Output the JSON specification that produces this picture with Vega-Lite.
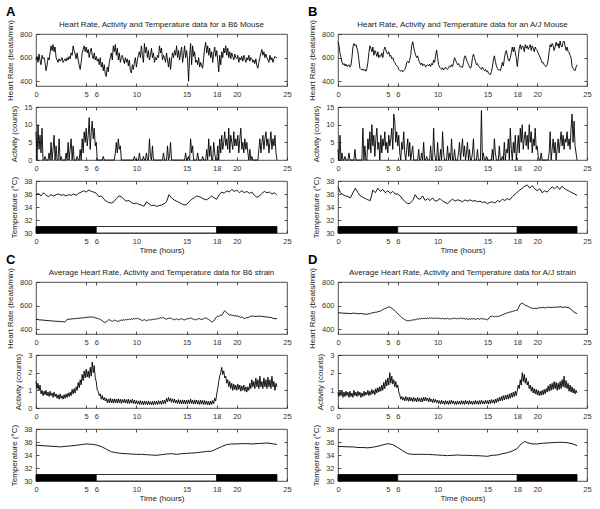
{
"$schema": "https://vega.github.io/schema/vega-lite/v6.json",
"padding": {"left": 6, "top": 6, "right": 2, "bottom": 2},
"background": "white",
"config": {
  "font": "Liberation Sans",
  "view": {"stroke": "#222", "strokeWidth": 0.8},
  "axis": {"grid": false, "domain": false, "tickSize": -3, "tickColor": "#222", "tickWidth": 0.8, "labelFontSize": 7.5, "labelColor": "#333", "labelPadding": 7, "labelFlush": false, "labelOverlap": false, "titleFontSize": 8, "titleFontWeight": "normal", "titleColor": "#222", "titlePadding": 5, "minExtent": 0},
  "axisX": {"titlePadding": 2},
  "title": {"fontWeight": "normal", "color": "#222"}
},
"datasets": {
"ld": [{"s":0,"e":6,"c":"dark"},{"s":6,"e":18,"c":"light"},{"s":18,"e":24,"c":"dark"}],
"a": [
{"t":0,"hr":580,"act":8},{"t":0.1,"hr":610,"act":0},{"t":0.2,"hr":560,"act":10},{"t":0.3,"hr":630,"act":3},{"t":0.4,"hr":575,"act":7},{"t":0.5,"hr":540,"act":2},{"t":0.6,"hr":620,"act":9},{"t":0.7,"hr":590,"act":0},{"t":0.8,"hr":600,"act":0},{"t":0.9,"hr":560,"act":1},
{"t":1,"hr":490,"act":0},{"t":1.1,"hr":530,"act":0},{"t":1.2,"hr":600,"act":0},{"t":1.3,"hr":580,"act":2},{"t":1.4,"hr":640,"act":0},{"t":1.5,"hr":700,"act":5},{"t":1.6,"hr":660,"act":0},{"t":1.7,"hr":710,"act":3},{"t":1.8,"hr":650,"act":7},{"t":1.9,"hr":690,"act":0},
{"t":2,"hr":600,"act":4},{"t":2.1,"hr":580,"act":0},{"t":2.2,"hr":560,"act":0},{"t":2.3,"hr":590,"act":6},{"t":2.4,"hr":570,"act":0},{"t":2.5,"hr":580,"act":1},{"t":2.6,"hr":600,"act":0},{"t":2.7,"hr":560,"act":0},{"t":2.8,"hr":575,"act":0},{"t":2.9,"hr":590,"act":0},
{"t":3,"hr":570,"act":2},{"t":3.1,"hr":600,"act":0},{"t":3.2,"hr":580,"act":5},{"t":3.3,"hr":610,"act":0},{"t":3.4,"hr":590,"act":3},{"t":3.5,"hr":640,"act":6},{"t":3.6,"hr":620,"act":0},{"t":3.7,"hr":700,"act":4},{"t":3.8,"hr":660,"act":0},{"t":3.9,"hr":630,"act":0},
{"t":4,"hr":590,"act":0},{"t":4.1,"hr":640,"act":1},{"t":4.2,"hr":580,"act":0},{"t":4.3,"hr":540,"act":0},{"t":4.4,"hr":500,"act":3},{"t":4.5,"hr":560,"act":0},{"t":4.6,"hr":640,"act":6},{"t":4.7,"hr":670,"act":2},{"t":4.8,"hr":700,"act":8},{"t":4.9,"hr":650,"act":5},
{"t":5,"hr":690,"act":9},{"t":5.1,"hr":640,"act":4},{"t":5.2,"hr":670,"act":7},{"t":5.3,"hr":600,"act":12},{"t":5.4,"hr":650,"act":3},{"t":5.5,"hr":680,"act":8},{"t":5.6,"hr":620,"act":11},{"t":5.7,"hr":590,"act":6},{"t":5.8,"hr":640,"act":9},{"t":5.9,"hr":580,"act":4},
{"t":6,"hr":610,"act":5},{"t":6.1,"hr":570,"act":0},{"t":6.2,"hr":590,"act":0},{"t":6.3,"hr":540,"act":0},{"t":6.4,"hr":600,"act":0},{"t":6.5,"hr":520,"act":0},{"t":6.6,"hr":560,"act":0},{"t":6.7,"hr":490,"act":1},{"t":6.8,"hr":540,"act":0},{"t":6.9,"hr":460,"act":0},
{"t":7,"hr":440,"act":0},{"t":7.1,"hr":520,"act":0},{"t":7.2,"hr":480,"act":0},{"t":7.3,"hr":560,"act":0},{"t":7.4,"hr":600,"act":0},{"t":7.5,"hr":640,"act":0},{"t":7.6,"hr":580,"act":0},{"t":7.7,"hr":700,"act":0},{"t":7.8,"hr":650,"act":0},{"t":7.9,"hr":710,"act":2},
{"t":8,"hr":620,"act":5},{"t":8.1,"hr":680,"act":2},{"t":8.2,"hr":580,"act":6},{"t":8.3,"hr":640,"act":3},{"t":8.4,"hr":560,"act":4},{"t":8.5,"hr":600,"act":0},{"t":8.6,"hr":620,"act":0},{"t":8.7,"hr":580,"act":0},{"t":8.8,"hr":550,"act":0},{"t":8.9,"hr":600,"act":0},
{"t":9,"hr":560,"act":0},{"t":9.1,"hr":590,"act":0},{"t":9.2,"hr":530,"act":0},{"t":9.3,"hr":580,"act":0},{"t":9.4,"hr":490,"act":0},{"t":9.5,"hr":470,"act":0},{"t":9.6,"hr":540,"act":0},{"t":9.7,"hr":500,"act":0},{"t":9.8,"hr":560,"act":1},{"t":9.9,"hr":600,"act":0},
{"t":10,"hr":520,"act":0},{"t":10.1,"hr":580,"act":0},{"t":10.2,"hr":620,"act":0},{"t":10.3,"hr":650,"act":2},{"t":10.4,"hr":600,"act":0},{"t":10.5,"hr":700,"act":0},{"t":10.6,"hr":620,"act":0},{"t":10.7,"hr":560,"act":1},{"t":10.8,"hr":720,"act":0},{"t":10.9,"hr":640,"act":0},
{"t":11,"hr":690,"act":2},{"t":11.1,"hr":600,"act":0},{"t":11.2,"hr":660,"act":0},{"t":11.3,"hr":580,"act":6},{"t":11.4,"hr":620,"act":1},{"t":11.5,"hr":680,"act":0},{"t":11.6,"hr":600,"act":4},{"t":11.7,"hr":640,"act":0},{"t":11.8,"hr":560,"act":0},{"t":11.9,"hr":600,"act":0},
{"t":12,"hr":580,"act":0},{"t":12.1,"hr":620,"act":0},{"t":12.2,"hr":600,"act":0},{"t":12.3,"hr":700,"act":0},{"t":12.4,"hr":640,"act":0},{"t":12.5,"hr":680,"act":0},{"t":12.6,"hr":580,"act":0},{"t":12.7,"hr":620,"act":2},{"t":12.8,"hr":600,"act":0},{"t":12.9,"hr":560,"act":0},
{"t":13,"hr":640,"act":0},{"t":13.1,"hr":580,"act":4},{"t":13.2,"hr":520,"act":0},{"t":13.3,"hr":600,"act":1},{"t":13.4,"hr":500,"act":5},{"t":13.5,"hr":580,"act":0},{"t":13.6,"hr":640,"act":0},{"t":13.7,"hr":600,"act":0},{"t":13.8,"hr":660,"act":0},{"t":13.9,"hr":620,"act":0},
{"t":14,"hr":700,"act":0},{"t":14.1,"hr":600,"act":0},{"t":14.2,"hr":660,"act":0},{"t":14.3,"hr":580,"act":0},{"t":14.4,"hr":640,"act":0},{"t":14.5,"hr":690,"act":0},{"t":14.6,"hr":560,"act":0},{"t":14.7,"hr":620,"act":0},{"t":14.8,"hr":700,"act":0},{"t":14.9,"hr":600,"act":2},
{"t":15,"hr":660,"act":0},{"t":15.1,"hr":580,"act":0},{"t":15.2,"hr":400,"act":1},{"t":15.3,"hr":620,"act":0},{"t":15.4,"hr":720,"act":6},{"t":15.5,"hr":540,"act":2},{"t":15.6,"hr":700,"act":4},{"t":15.7,"hr":610,"act":0},{"t":15.8,"hr":650,"act":0},{"t":15.9,"hr":560,"act":0},
{"t":16,"hr":580,"act":0},{"t":16.1,"hr":540,"act":2},{"t":16.2,"hr":600,"act":0},{"t":16.3,"hr":520,"act":0},{"t":16.4,"hr":560,"act":0},{"t":16.5,"hr":530,"act":0},{"t":16.6,"hr":510,"act":1},{"t":16.7,"hr":600,"act":0},{"t":16.8,"hr":680,"act":0},{"t":16.9,"hr":730,"act":0},
{"t":17,"hr":640,"act":3},{"t":17.1,"hr":700,"act":0},{"t":17.2,"hr":620,"act":6},{"t":17.3,"hr":680,"act":1},{"t":17.4,"hr":600,"act":4},{"t":17.5,"hr":650,"act":0},{"t":17.6,"hr":560,"act":0},{"t":17.7,"hr":640,"act":5},{"t":17.8,"hr":690,"act":2},{"t":17.9,"hr":610,"act":0},
{"t":18,"hr":660,"act":0},{"t":18.1,"hr":580,"act":4},{"t":18.2,"hr":480,"act":0},{"t":18.3,"hr":620,"act":6},{"t":18.4,"hr":540,"act":2},{"t":18.5,"hr":650,"act":7},{"t":18.6,"hr":600,"act":3},{"t":18.7,"hr":680,"act":5},{"t":18.8,"hr":640,"act":8},{"t":18.9,"hr":700,"act":4},
{"t":19,"hr":620,"act":6},{"t":19.1,"hr":680,"act":3},{"t":19.2,"hr":600,"act":9},{"t":19.3,"hr":650,"act":2},{"t":19.4,"hr":590,"act":7},{"t":19.5,"hr":640,"act":5},{"t":19.6,"hr":610,"act":3},{"t":19.7,"hr":580,"act":8},{"t":19.8,"hr":630,"act":4},{"t":19.9,"hr":600,"act":6},
{"t":20,"hr":590,"act":4},{"t":20.1,"hr":620,"act":7},{"t":20.2,"hr":560,"act":2},{"t":20.3,"hr":600,"act":6},{"t":20.4,"hr":580,"act":9},{"t":20.5,"hr":610,"act":3},{"t":20.6,"hr":570,"act":5},{"t":20.7,"hr":620,"act":2},{"t":20.8,"hr":590,"act":6},{"t":20.9,"hr":560,"act":3},
{"t":21,"hr":600,"act":5},{"t":21.1,"hr":580,"act":2},{"t":21.2,"hr":620,"act":0},{"t":21.3,"hr":570,"act":3},{"t":21.4,"hr":600,"act":0},{"t":21.5,"hr":590,"act":1},{"t":21.6,"hr":560,"act":0},{"t":21.7,"hr":580,"act":0},{"t":21.8,"hr":550,"act":0},{"t":21.9,"hr":590,"act":0},
{"t":22,"hr":530,"act":0},{"t":22.1,"hr":510,"act":0},{"t":22.2,"hr":560,"act":3},{"t":22.3,"hr":600,"act":6},{"t":22.4,"hr":640,"act":2},{"t":22.5,"hr":670,"act":5},{"t":22.6,"hr":620,"act":7},{"t":22.7,"hr":650,"act":3},{"t":22.8,"hr":600,"act":6},{"t":22.9,"hr":630,"act":8},
{"t":23,"hr":600,"act":4},{"t":23.1,"hr":580,"act":6},{"t":23.2,"hr":560,"act":2},{"t":23.3,"hr":620,"act":5},{"t":23.4,"hr":580,"act":8},{"t":23.5,"hr":600,"act":3},{"t":23.6,"hr":560,"act":6},{"t":23.7,"hr":590,"act":4},{"t":23.8,"hr":610,"act":7},{"t":23.9,"hr":600,"act":2},
{"t":24,"hr":600,"act":0}
],
"b": [
{"t":0,"hr":735,"act":3},{"t":0.1,"hr":700,"act":0},{"t":0.2,"hr":640,"act":7},{"t":0.3,"hr":600,"act":0},{"t":0.4,"hr":560,"act":2},{"t":0.5,"hr":540,"act":0},{"t":0.6,"hr":550,"act":0},{"t":0.7,"hr":530,"act":1},{"t":0.8,"hr":545,"act":0},{"t":0.9,"hr":525,"act":0},
{"t":1,"hr":530,"act":0},{"t":1.1,"hr":540,"act":2},{"t":1.2,"hr":520,"act":0},{"t":1.3,"hr":535,"act":0},{"t":1.4,"hr":600,"act":0},{"t":1.5,"hr":690,"act":0},{"t":1.6,"hr":720,"act":0},{"t":1.7,"hr":700,"act":3},{"t":1.8,"hr":710,"act":0},{"t":1.9,"hr":680,"act":0},
{"t":2,"hr":650,"act":0},{"t":2.1,"hr":580,"act":0},{"t":2.2,"hr":510,"act":0},{"t":2.3,"hr":500,"act":0},{"t":2.4,"hr":495,"act":0},{"t":2.5,"hr":505,"act":9},{"t":2.6,"hr":490,"act":0},{"t":2.7,"hr":500,"act":4},{"t":2.8,"hr":485,"act":0},{"t":2.9,"hr":510,"act":0},
{"t":3,"hr":560,"act":6},{"t":3.1,"hr":640,"act":3},{"t":3.2,"hr":700,"act":8},{"t":3.3,"hr":680,"act":2},{"t":3.4,"hr":650,"act":10},{"t":3.5,"hr":690,"act":4},{"t":3.6,"hr":620,"act":7},{"t":3.7,"hr":660,"act":1},{"t":3.8,"hr":640,"act":6},{"t":3.9,"hr":610,"act":9},
{"t":4,"hr":650,"act":3},{"t":4.1,"hr":600,"act":5},{"t":4.2,"hr":620,"act":0},{"t":4.3,"hr":610,"act":7},{"t":4.4,"hr":640,"act":2},{"t":4.5,"hr":600,"act":6},{"t":4.6,"hr":660,"act":4},{"t":4.7,"hr":690,"act":8},{"t":4.8,"hr":670,"act":3},{"t":4.9,"hr":640,"act":5},
{"t":5,"hr":630,"act":2},{"t":5.1,"hr":650,"act":7},{"t":5.2,"hr":610,"act":4},{"t":5.3,"hr":620,"act":6},{"t":5.4,"hr":590,"act":9},{"t":5.5,"hr":600,"act":3},{"t":5.6,"hr":570,"act":13},{"t":5.7,"hr":560,"act":11},{"t":5.8,"hr":540,"act":5},{"t":5.9,"hr":530,"act":8},
{"t":6,"hr":525,"act":4},{"t":6.1,"hr":500,"act":7},{"t":6.2,"hr":490,"act":2},{"t":6.3,"hr":485,"act":0},{"t":6.4,"hr":495,"act":5},{"t":6.5,"hr":480,"act":3},{"t":6.6,"hr":490,"act":8},{"t":6.7,"hr":500,"act":2},{"t":6.8,"hr":520,"act":0},{"t":6.9,"hr":560,"act":3},
{"t":7,"hr":570,"act":6},{"t":7.1,"hr":555,"act":1},{"t":7.2,"hr":580,"act":5},{"t":7.3,"hr":620,"act":0},{"t":7.4,"hr":700,"act":2},{"t":7.5,"hr":735,"act":4},{"t":7.6,"hr":690,"act":0},{"t":7.7,"hr":650,"act":0},{"t":7.8,"hr":620,"act":0},{"t":7.9,"hr":600,"act":0},
{"t":8,"hr":615,"act":0},{"t":8.1,"hr":580,"act":3},{"t":8.2,"hr":560,"act":0},{"t":8.3,"hr":540,"act":0},{"t":8.4,"hr":555,"act":2},{"t":8.5,"hr":530,"act":0},{"t":8.6,"hr":545,"act":5},{"t":8.7,"hr":540,"act":0},{"t":8.8,"hr":520,"act":0},{"t":8.9,"hr":535,"act":1},
{"t":9,"hr":540,"act":0},{"t":9.1,"hr":530,"act":0},{"t":9.2,"hr":545,"act":0},{"t":9.3,"hr":525,"act":4},{"t":9.4,"hr":550,"act":0},{"t":9.5,"hr":540,"act":0},{"t":9.6,"hr":580,"act":9},{"t":9.7,"hr":560,"act":2},{"t":9.8,"hr":620,"act":0},{"t":9.9,"hr":665,"act":0},
{"t":10,"hr":600,"act":5},{"t":10.1,"hr":540,"act":0},{"t":10.2,"hr":520,"act":0},{"t":10.3,"hr":510,"act":3},{"t":10.4,"hr":500,"act":0},{"t":10.5,"hr":515,"act":8},{"t":10.6,"hr":495,"act":2},{"t":10.7,"hr":505,"act":0},{"t":10.8,"hr":520,"act":0},{"t":10.9,"hr":510,"act":0},
{"t":11,"hr":500,"act":4},{"t":11.1,"hr":515,"act":0},{"t":11.2,"hr":530,"act":2},{"t":11.3,"hr":520,"act":0},{"t":11.4,"hr":540,"act":6},{"t":11.5,"hr":525,"act":0},{"t":11.6,"hr":560,"act":0},{"t":11.7,"hr":600,"act":3},{"t":11.8,"hr":580,"act":0},{"t":11.9,"hr":560,"act":0},
{"t":12,"hr":540,"act":0},{"t":12.1,"hr":550,"act":2},{"t":12.2,"hr":530,"act":5},{"t":12.3,"hr":520,"act":0},{"t":12.4,"hr":525,"act":3},{"t":12.5,"hr":515,"act":6},{"t":12.6,"hr":560,"act":1},{"t":12.7,"hr":610,"act":4},{"t":12.8,"hr":615,"act":0},{"t":12.9,"hr":580,"act":2},
{"t":13,"hr":560,"act":5},{"t":13.1,"hr":540,"act":0},{"t":13.2,"hr":520,"act":3},{"t":13.3,"hr":510,"act":0},{"t":13.4,"hr":530,"act":0},{"t":13.5,"hr":600,"act":2},{"t":13.6,"hr":630,"act":6},{"t":13.7,"hr":600,"act":0},{"t":13.8,"hr":570,"act":0},{"t":13.9,"hr":540,"act":0},
{"t":14,"hr":550,"act":3},{"t":14.1,"hr":530,"act":0},{"t":14.2,"hr":520,"act":0},{"t":14.3,"hr":510,"act":0},{"t":14.4,"hr":500,"act":14},{"t":14.5,"hr":520,"act":0},{"t":14.6,"hr":505,"act":2},{"t":14.7,"hr":490,"act":0},{"t":14.8,"hr":500,"act":0},{"t":14.9,"hr":480,"act":1},
{"t":15,"hr":490,"act":0},{"t":15.1,"hr":470,"act":0},{"t":15.2,"hr":460,"act":0},{"t":15.3,"hr":455,"act":0},{"t":15.4,"hr":480,"act":0},{"t":15.5,"hr":520,"act":3},{"t":15.6,"hr":580,"act":0},{"t":15.7,"hr":615,"act":6},{"t":15.8,"hr":570,"act":2},{"t":15.9,"hr":530,"act":0},
{"t":16,"hr":510,"act":0},{"t":16.1,"hr":495,"act":0},{"t":16.2,"hr":500,"act":4},{"t":16.3,"hr":490,"act":0},{"t":16.4,"hr":520,"act":0},{"t":16.5,"hr":560,"act":1},{"t":16.6,"hr":530,"act":0},{"t":16.7,"hr":590,"act":5},{"t":16.8,"hr":640,"act":0},{"t":16.9,"hr":660,"act":3},
{"t":17,"hr":620,"act":2},{"t":17.1,"hr":580,"act":6},{"t":17.2,"hr":570,"act":0},{"t":17.3,"hr":600,"act":9},{"t":17.4,"hr":640,"act":3},{"t":17.5,"hr":690,"act":0},{"t":17.6,"hr":650,"act":5},{"t":17.7,"hr":690,"act":2},{"t":17.8,"hr":640,"act":7},{"t":17.9,"hr":600,"act":0},
{"t":18,"hr":525,"act":3},{"t":18.1,"hr":600,"act":7},{"t":18.2,"hr":680,"act":2},{"t":18.3,"hr":710,"act":9},{"t":18.4,"hr":670,"act":5},{"t":18.5,"hr":700,"act":10},{"t":18.6,"hr":690,"act":3},{"t":18.7,"hr":650,"act":6},{"t":18.8,"hr":710,"act":8},{"t":18.9,"hr":680,"act":4},
{"t":19,"hr":700,"act":7},{"t":19.1,"hr":670,"act":3},{"t":19.2,"hr":690,"act":10},{"t":19.3,"hr":710,"act":5},{"t":19.4,"hr":660,"act":8},{"t":19.5,"hr":700,"act":2},{"t":19.6,"hr":680,"act":6},{"t":19.7,"hr":650,"act":4},{"t":19.8,"hr":690,"act":9},{"t":19.9,"hr":670,"act":3},
{"t":20,"hr":660,"act":4},{"t":20.1,"hr":640,"act":1},{"t":20.2,"hr":620,"act":0},{"t":20.3,"hr":600,"act":0},{"t":20.4,"hr":580,"act":2},{"t":20.5,"hr":555,"act":0},{"t":20.6,"hr":560,"act":0},{"t":20.7,"hr":540,"act":0},{"t":20.8,"hr":530,"act":0},{"t":20.9,"hr":525,"act":0},
{"t":21,"hr":540,"act":0},{"t":21.1,"hr":580,"act":0},{"t":21.2,"hr":650,"act":2},{"t":21.3,"hr":710,"act":8},{"t":21.4,"hr":690,"act":0},{"t":21.5,"hr":720,"act":3},{"t":21.6,"hr":700,"act":6},{"t":21.7,"hr":660,"act":2},{"t":21.8,"hr":690,"act":5},{"t":21.9,"hr":730,"act":0},
{"t":22,"hr":700,"act":3},{"t":22.1,"hr":720,"act":6},{"t":22.2,"hr":680,"act":2},{"t":22.3,"hr":740,"act":5},{"t":22.4,"hr":700,"act":8},{"t":22.5,"hr":690,"act":4},{"t":22.6,"hr":730,"act":7},{"t":22.7,"hr":740,"act":3},{"t":22.8,"hr":700,"act":6},{"t":22.9,"hr":660,"act":5},
{"t":23,"hr":690,"act":8},{"t":23.1,"hr":650,"act":4},{"t":23.2,"hr":645,"act":6},{"t":23.3,"hr":620,"act":3},{"t":23.4,"hr":600,"act":9},{"t":23.5,"hr":530,"act":13},{"t":23.6,"hr":510,"act":5},{"t":23.7,"hr":495,"act":11},{"t":23.8,"hr":490,"act":4},{"t":23.9,"hr":520,"act":2},
{"t":24,"hr":540,"act":0}
],
"c": [
{"t":0,"hr":485,"act":1.5},{"t":0.1,"hr":482,"act":1.1},{"t":0.2,"hr":484,"act":1.4},{"t":0.3,"hr":480,"act":1.0},{"t":0.4,"hr":478,"act":1.3},{"t":0.5,"hr":481,"act":0.8},{"t":0.6,"hr":476,"act":1.0},{"t":0.7,"hr":479,"act":0.7},{"t":0.8,"hr":475,"act":0.95},{"t":0.9,"hr":477,"act":0.75},
{"t":1,"hr":474,"act":1.0},{"t":1.1,"hr":476,"act":0.7},{"t":1.2,"hr":472,"act":0.9},{"t":1.3,"hr":475,"act":0.65},{"t":1.4,"hr":470,"act":0.95},{"t":1.5,"hr":473,"act":0.7},{"t":1.6,"hr":468,"act":0.85},{"t":1.7,"hr":471,"act":0.6},{"t":1.8,"hr":467,"act":0.9},{"t":1.9,"hr":470,"act":0.65},
{"t":2,"hr":466,"act":0.8},{"t":2.1,"hr":469,"act":0.55},{"t":2.2,"hr":465,"act":0.75},{"t":2.3,"hr":468,"act":0.5},{"t":2.4,"hr":464,"act":0.8},{"t":2.5,"hr":467,"act":0.55},{"t":2.6,"hr":462,"act":0.7},{"t":2.7,"hr":465,"act":0.5},{"t":2.8,"hr":460,"act":0.75},{"t":2.9,"hr":463,"act":0.55},
{"t":3,"hr":475,"act":0.8},{"t":3.1,"hr":482,"act":0.6},{"t":3.2,"hr":486,"act":0.85},{"t":3.3,"hr":484,"act":0.65},{"t":3.4,"hr":488,"act":0.9},{"t":3.5,"hr":485,"act":0.7},{"t":3.6,"hr":490,"act":1.05},{"t":3.7,"hr":487,"act":0.8},{"t":3.8,"hr":491,"act":1.1},{"t":3.9,"hr":489,"act":0.85},
{"t":4,"hr":493,"act":1.2},{"t":4.1,"hr":490,"act":1.0},{"t":4.2,"hr":495,"act":1.45},{"t":4.3,"hr":492,"act":1.15},{"t":4.4,"hr":496,"act":1.6},{"t":4.5,"hr":494,"act":1.3},{"t":4.6,"hr":498,"act":1.9},{"t":4.7,"hr":495,"act":1.55},{"t":4.8,"hr":500,"act":2.1},{"t":4.9,"hr":497,"act":1.7},
{"t":5,"hr":502,"act":2.2},{"t":5.1,"hr":499,"act":1.75},{"t":5.2,"hr":504,"act":2.1},{"t":5.3,"hr":501,"act":1.7},{"t":5.4,"hr":506,"act":2.3},{"t":5.5,"hr":503,"act":1.8},{"t":5.6,"hr":505,"act":2.6},{"t":5.7,"hr":500,"act":2.0},{"t":5.8,"hr":502,"act":2.4},{"t":5.9,"hr":497,"act":1.7},
{"t":6,"hr":495,"act":1.5},{"t":6.1,"hr":490,"act":1.0},{"t":6.2,"hr":492,"act":0.95},{"t":6.3,"hr":487,"act":0.7},{"t":6.4,"hr":483,"act":0.8},{"t":6.5,"hr":478,"act":0.5},{"t":6.6,"hr":472,"act":0.7},{"t":6.7,"hr":466,"act":0.45},{"t":6.8,"hr":460,"act":0.6},{"t":6.9,"hr":458,"act":0.4},
{"t":7,"hr":462,"act":0.55},{"t":7.1,"hr":470,"act":0.3},{"t":7.2,"hr":478,"act":0.5},{"t":7.3,"hr":482,"act":0.3},{"t":7.4,"hr":475,"act":0.55},{"t":7.5,"hr":470,"act":0.3},{"t":7.6,"hr":466,"act":0.5},{"t":7.7,"hr":472,"act":0.28},{"t":7.8,"hr":478,"act":0.52},{"t":7.9,"hr":474,"act":0.3},
{"t":8,"hr":470,"act":0.5},{"t":8.1,"hr":466,"act":0.28},{"t":8.2,"hr":472,"act":0.52},{"t":8.3,"hr":468,"act":0.3},{"t":8.4,"hr":474,"act":0.5},{"t":8.5,"hr":478,"act":0.26},{"t":8.6,"hr":476,"act":0.48},{"t":8.7,"hr":480,"act":0.3},{"t":8.8,"hr":477,"act":0.5},{"t":8.9,"hr":482,"act":0.28},
{"t":9,"hr":479,"act":0.48},{"t":9.1,"hr":484,"act":0.26},{"t":9.2,"hr":481,"act":0.5},{"t":9.3,"hr":486,"act":0.25},{"t":9.4,"hr":483,"act":0.46},{"t":9.5,"hr":488,"act":0.28},{"t":9.6,"hr":485,"act":0.5},{"t":9.7,"hr":490,"act":0.25},{"t":9.8,"hr":487,"act":0.45},{"t":9.9,"hr":492,"act":0.24},
{"t":10,"hr":490,"act":0.42},{"t":10.1,"hr":494,"act":0.22},{"t":10.2,"hr":489,"act":0.4},{"t":10.3,"hr":486,"act":0.2},{"t":10.4,"hr":482,"act":0.42},{"t":10.5,"hr":478,"act":0.2},{"t":10.6,"hr":474,"act":0.38},{"t":10.7,"hr":478,"act":0.18},{"t":10.8,"hr":482,"act":0.4},{"t":10.9,"hr":476,"act":0.2},
{"t":11,"hr":472,"act":0.38},{"t":11.1,"hr":476,"act":0.18},{"t":11.2,"hr":480,"act":0.4},{"t":11.3,"hr":477,"act":0.2},{"t":11.4,"hr":482,"act":0.36},{"t":11.5,"hr":479,"act":0.18},{"t":11.6,"hr":484,"act":0.38},{"t":11.7,"hr":481,"act":0.17},{"t":11.8,"hr":486,"act":0.4},{"t":11.9,"hr":483,"act":0.2},
{"t":12,"hr":488,"act":0.38},{"t":12.1,"hr":492,"act":0.2},{"t":12.2,"hr":489,"act":0.42},{"t":12.3,"hr":494,"act":0.22},{"t":12.4,"hr":498,"act":0.4},{"t":12.5,"hr":495,"act":0.2},{"t":12.6,"hr":500,"act":0.44},{"t":12.7,"hr":496,"act":0.24},{"t":12.8,"hr":492,"act":0.45},{"t":12.9,"hr":488,"act":0.25},
{"t":13,"hr":485,"act":0.55},{"t":13.1,"hr":490,"act":0.35},{"t":13.2,"hr":494,"act":0.6},{"t":13.3,"hr":491,"act":0.38},{"t":13.4,"hr":496,"act":0.55},{"t":13.5,"hr":492,"act":0.32},{"t":13.6,"hr":487,"act":0.52},{"t":13.7,"hr":483,"act":0.3},{"t":13.8,"hr":480,"act":0.5},{"t":13.9,"hr":484,"act":0.28},
{"t":14,"hr":488,"act":0.45},{"t":14.1,"hr":484,"act":0.25},{"t":14.2,"hr":480,"act":0.48},{"t":14.3,"hr":483,"act":0.25},{"t":14.4,"hr":487,"act":0.44},{"t":14.5,"hr":490,"act":0.22},{"t":14.6,"hr":486,"act":0.46},{"t":14.7,"hr":482,"act":0.24},{"t":14.8,"hr":479,"act":0.45},{"t":14.9,"hr":483,"act":0.22},
{"t":15,"hr":487,"act":0.44},{"t":15.1,"hr":491,"act":0.24},{"t":15.2,"hr":488,"act":0.46},{"t":15.3,"hr":493,"act":0.25},{"t":15.4,"hr":496,"act":0.5},{"t":15.5,"hr":492,"act":0.26},{"t":15.6,"hr":488,"act":0.44},{"t":15.7,"hr":485,"act":0.22},{"t":15.8,"hr":482,"act":0.46},{"t":15.9,"hr":479,"act":0.24},
{"t":16,"hr":483,"act":0.45},{"t":16.1,"hr":487,"act":0.22},{"t":16.2,"hr":491,"act":0.42},{"t":16.3,"hr":488,"act":0.2},{"t":16.4,"hr":485,"act":0.44},{"t":16.5,"hr":482,"act":0.22},{"t":16.6,"hr":486,"act":0.43},{"t":16.7,"hr":490,"act":0.2},{"t":16.8,"hr":494,"act":0.42},{"t":16.9,"hr":497,"act":0.2},
{"t":17,"hr":492,"act":0.4},{"t":17.1,"hr":487,"act":0.18},{"t":17.2,"hr":482,"act":0.38},{"t":17.3,"hr":476,"act":0.17},{"t":17.4,"hr":470,"act":0.4},{"t":17.5,"hr":464,"act":0.2},{"t":17.6,"hr":462,"act":0.42},{"t":17.7,"hr":470,"act":0.25},{"t":17.8,"hr":482,"act":0.55},{"t":17.9,"hr":495,"act":0.4},
{"t":18,"hr":506,"act":0.8},{"t":18.1,"hr":512,"act":1.1},{"t":18.2,"hr":508,"act":1.5},{"t":18.3,"hr":515,"act":1.8},{"t":18.4,"hr":520,"act":2.0},{"t":18.5,"hr":518,"act":2.3},{"t":18.6,"hr":532,"act":1.9},{"t":18.7,"hr":548,"act":2.1},{"t":18.8,"hr":555,"act":1.7},{"t":18.9,"hr":548,"act":1.8},
{"t":19,"hr":540,"act":1.4},{"t":19.1,"hr":532,"act":1.6},{"t":19.2,"hr":525,"act":1.2},{"t":19.3,"hr":520,"act":1.5},{"t":19.4,"hr":523,"act":1.1},{"t":19.5,"hr":518,"act":1.4},{"t":19.6,"hr":515,"act":1.0},{"t":19.7,"hr":519,"act":1.35},{"t":19.8,"hr":512,"act":1.05},{"t":19.9,"hr":516,"act":1.3},
{"t":20,"hr":510,"act":1.0},{"t":20.1,"hr":514,"act":1.35},{"t":20.2,"hr":508,"act":1.05},{"t":20.3,"hr":504,"act":1.3},{"t":20.4,"hr":500,"act":0.95},{"t":20.5,"hr":505,"act":1.25},{"t":20.6,"hr":498,"act":1.0},{"t":20.7,"hr":494,"act":1.3},{"t":20.8,"hr":490,"act":0.95},{"t":20.9,"hr":496,"act":1.2},
{"t":21,"hr":500,"act":0.9},{"t":21.1,"hr":497,"act":1.2},{"t":21.2,"hr":503,"act":1.0},{"t":21.3,"hr":507,"act":1.4},{"t":21.4,"hr":512,"act":1.1},{"t":21.5,"hr":509,"act":1.6},{"t":21.6,"hr":514,"act":1.2},{"t":21.7,"hr":510,"act":1.5},{"t":21.8,"hr":507,"act":1.1},{"t":21.9,"hr":511,"act":1.7},
{"t":22,"hr":508,"act":1.2},{"t":22.1,"hr":512,"act":1.6},{"t":22.2,"hr":509,"act":1.1},{"t":22.3,"hr":513,"act":1.8},{"t":22.4,"hr":510,"act":1.2},{"t":22.5,"hr":506,"act":1.5},{"t":22.6,"hr":510,"act":1.1},{"t":22.7,"hr":507,"act":1.7},{"t":22.8,"hr":503,"act":1.2},{"t":22.9,"hr":507,"act":1.6},
{"t":23,"hr":504,"act":1.1},{"t":23.1,"hr":500,"act":1.75},{"t":23.2,"hr":503,"act":1.2},{"t":23.3,"hr":499,"act":1.6},{"t":23.4,"hr":502,"act":1.1},{"t":23.5,"hr":497,"act":1.8},{"t":23.6,"hr":493,"act":1.2},{"t":23.7,"hr":489,"act":1.5},{"t":23.8,"hr":492,"act":1.0},{"t":23.9,"hr":488,"act":1.4},
{"t":24,"hr":490,"act":1.2}
],
"d": [
{"t":0,"hr":540,"act":0.9},{"t":0.1,"hr":537,"act":0.65},{"t":0.2,"hr":541,"act":0.95},{"t":0.3,"hr":536,"act":0.7},{"t":0.4,"hr":539,"act":1.0},{"t":0.5,"hr":535,"act":0.6},{"t":0.6,"hr":538,"act":0.9},{"t":0.7,"hr":534,"act":0.65},{"t":0.8,"hr":537,"act":0.95},{"t":0.9,"hr":533,"act":0.7},
{"t":1,"hr":536,"act":0.9},{"t":1.1,"hr":532,"act":0.6},{"t":1.2,"hr":535,"act":0.95},{"t":1.3,"hr":531,"act":0.65},{"t":1.4,"hr":534,"act":0.85},{"t":1.5,"hr":538,"act":0.6},{"t":1.6,"hr":535,"act":1.0},{"t":1.7,"hr":532,"act":0.7},{"t":1.8,"hr":536,"act":0.9},{"t":1.9,"hr":533,"act":0.65},
{"t":2,"hr":530,"act":0.95},{"t":2.1,"hr":534,"act":0.7},{"t":2.2,"hr":531,"act":0.9},{"t":2.3,"hr":535,"act":0.6},{"t":2.4,"hr":532,"act":0.85},{"t":2.5,"hr":528,"act":0.65},{"t":2.6,"hr":531,"act":0.95},{"t":2.7,"hr":527,"act":0.7},{"t":2.8,"hr":530,"act":0.9},{"t":2.9,"hr":526,"act":0.75},
{"t":3,"hr":529,"act":1.0},{"t":3.1,"hr":533,"act":0.7},{"t":3.2,"hr":530,"act":0.95},{"t":3.3,"hr":535,"act":0.75},{"t":3.4,"hr":540,"act":1.05},{"t":3.5,"hr":538,"act":0.8},{"t":3.6,"hr":543,"act":1.0},{"t":3.7,"hr":541,"act":0.75},{"t":3.8,"hr":546,"act":1.1},{"t":3.9,"hr":544,"act":0.85},
{"t":4,"hr":549,"act":1.15},{"t":4.1,"hr":552,"act":0.9},{"t":4.2,"hr":550,"act":1.2},{"t":4.3,"hr":556,"act":0.95},{"t":4.4,"hr":560,"act":1.3},{"t":4.5,"hr":566,"act":1.0},{"t":4.6,"hr":571,"act":1.45},{"t":4.7,"hr":575,"act":1.1},{"t":4.8,"hr":578,"act":1.6},{"t":4.9,"hr":582,"act":1.25},
{"t":5,"hr":586,"act":1.7},{"t":5.1,"hr":590,"act":1.3},{"t":5.2,"hr":587,"act":2.0},{"t":5.3,"hr":584,"act":1.4},{"t":5.4,"hr":578,"act":1.8},{"t":5.5,"hr":572,"act":1.35},{"t":5.6,"hr":565,"act":1.6},{"t":5.7,"hr":558,"act":1.2},{"t":5.8,"hr":550,"act":1.5},{"t":5.9,"hr":540,"act":1.15},
{"t":6,"hr":532,"act":1.3},{"t":6.1,"hr":524,"act":0.9},{"t":6.2,"hr":516,"act":0.75},{"t":6.3,"hr":508,"act":0.5},{"t":6.4,"hr":500,"act":0.65},{"t":6.5,"hr":494,"act":0.45},{"t":6.6,"hr":488,"act":0.6},{"t":6.7,"hr":482,"act":0.4},{"t":6.8,"hr":477,"act":0.65},{"t":6.9,"hr":473,"act":0.42},
{"t":7,"hr":471,"act":0.6},{"t":7.1,"hr":472,"act":0.38},{"t":7.2,"hr":475,"act":0.62},{"t":7.3,"hr":473,"act":0.4},{"t":7.4,"hr":477,"act":0.58},{"t":7.5,"hr":479,"act":0.36},{"t":7.6,"hr":481,"act":0.6},{"t":7.7,"hr":478,"act":0.38},{"t":7.8,"hr":483,"act":0.56},{"t":7.9,"hr":485,"act":0.35},
{"t":8,"hr":488,"act":0.6},{"t":8.1,"hr":486,"act":0.38},{"t":8.2,"hr":490,"act":0.55},{"t":8.3,"hr":487,"act":0.34},{"t":8.4,"hr":492,"act":0.58},{"t":8.5,"hr":489,"act":0.36},{"t":8.6,"hr":493,"act":0.6},{"t":8.7,"hr":490,"act":0.4},{"t":8.8,"hr":494,"act":0.62},{"t":8.9,"hr":491,"act":0.4},
{"t":9,"hr":495,"act":0.55},{"t":9.1,"hr":492,"act":0.34},{"t":9.2,"hr":496,"act":0.58},{"t":9.3,"hr":493,"act":0.36},{"t":9.4,"hr":497,"act":0.5},{"t":9.5,"hr":494,"act":0.3},{"t":9.6,"hr":491,"act":0.52},{"t":9.7,"hr":495,"act":0.32},{"t":9.8,"hr":492,"act":0.48},{"t":9.9,"hr":496,"act":0.3},
{"t":10,"hr":493,"act":0.45},{"t":10.1,"hr":490,"act":0.25},{"t":10.2,"hr":494,"act":0.42},{"t":10.3,"hr":491,"act":0.22},{"t":10.4,"hr":489,"act":0.44},{"t":10.5,"hr":493,"act":0.24},{"t":10.6,"hr":490,"act":0.4},{"t":10.7,"hr":487,"act":0.2},{"t":10.8,"hr":491,"act":0.42},{"t":10.9,"hr":488,"act":0.22},
{"t":11,"hr":492,"act":0.4},{"t":11.1,"hr":489,"act":0.2},{"t":11.2,"hr":486,"act":0.42},{"t":11.3,"hr":490,"act":0.22},{"t":11.4,"hr":487,"act":0.45},{"t":11.5,"hr":491,"act":0.25},{"t":11.6,"hr":494,"act":0.4},{"t":11.7,"hr":490,"act":0.2},{"t":11.8,"hr":493,"act":0.38},{"t":11.9,"hr":489,"act":0.2},
{"t":12,"hr":492,"act":0.4},{"t":12.1,"hr":488,"act":0.22},{"t":12.2,"hr":491,"act":0.38},{"t":12.3,"hr":495,"act":0.2},{"t":12.4,"hr":492,"act":0.42},{"t":12.5,"hr":489,"act":0.22},{"t":12.6,"hr":493,"act":0.4},{"t":12.7,"hr":490,"act":0.2},{"t":12.8,"hr":486,"act":0.44},{"t":12.9,"hr":490,"act":0.24},
{"t":13,"hr":487,"act":0.4},{"t":13.1,"hr":484,"act":0.2},{"t":13.2,"hr":488,"act":0.42},{"t":13.3,"hr":485,"act":0.22},{"t":13.4,"hr":490,"act":0.38},{"t":13.5,"hr":487,"act":0.2},{"t":13.6,"hr":491,"act":0.4},{"t":13.7,"hr":488,"act":0.21},{"t":13.8,"hr":484,"act":0.43},{"t":13.9,"hr":487,"act":0.22},
{"t":14,"hr":491,"act":0.4},{"t":14.1,"hr":488,"act":0.2},{"t":14.2,"hr":485,"act":0.42},{"t":14.3,"hr":489,"act":0.22},{"t":14.4,"hr":492,"act":0.45},{"t":14.5,"hr":488,"act":0.24},{"t":14.6,"hr":485,"act":0.4},{"t":14.7,"hr":489,"act":0.22},{"t":14.8,"hr":486,"act":0.44},{"t":14.9,"hr":483,"act":0.25},
{"t":15,"hr":480,"act":0.42},{"t":15.1,"hr":486,"act":0.22},{"t":15.2,"hr":498,"act":0.45},{"t":15.3,"hr":510,"act":0.25},{"t":15.4,"hr":506,"act":0.48},{"t":15.5,"hr":512,"act":0.28},{"t":15.6,"hr":508,"act":0.46},{"t":15.7,"hr":505,"act":0.26},{"t":15.8,"hr":510,"act":0.5},{"t":15.9,"hr":507,"act":0.3},
{"t":16,"hr":511,"act":0.55},{"t":16.1,"hr":508,"act":0.35},{"t":16.2,"hr":512,"act":0.6},{"t":16.3,"hr":515,"act":0.4},{"t":16.4,"hr":518,"act":0.65},{"t":16.5,"hr":522,"act":0.42},{"t":16.6,"hr":526,"act":0.7},{"t":16.7,"hr":530,"act":0.45},{"t":16.8,"hr":533,"act":0.72},{"t":16.9,"hr":536,"act":0.5},
{"t":17,"hr":538,"act":0.75},{"t":17.1,"hr":541,"act":0.5},{"t":17.2,"hr":544,"act":0.8},{"t":17.3,"hr":546,"act":0.55},{"t":17.4,"hr":548,"act":0.85},{"t":17.5,"hr":551,"act":0.6},{"t":17.6,"hr":553,"act":0.9},{"t":17.7,"hr":556,"act":0.65},{"t":17.8,"hr":558,"act":0.95},{"t":17.9,"hr":560,"act":0.7},
{"t":18,"hr":562,"act":1.0},{"t":18.1,"hr":575,"act":1.3},{"t":18.2,"hr":598,"act":1.1},{"t":18.3,"hr":612,"act":1.6},{"t":18.4,"hr":618,"act":1.3},{"t":18.5,"hr":620,"act":2.0},{"t":18.6,"hr":616,"act":1.5},{"t":18.7,"hr":610,"act":1.9},{"t":18.8,"hr":604,"act":1.4},{"t":18.9,"hr":600,"act":1.7},
{"t":19,"hr":598,"act":1.3},{"t":19.1,"hr":592,"act":1.5},{"t":19.2,"hr":588,"act":1.1},{"t":19.3,"hr":584,"act":1.3},{"t":19.4,"hr":580,"act":0.95},{"t":19.5,"hr":577,"act":1.2},{"t":19.6,"hr":579,"act":0.85},{"t":19.7,"hr":576,"act":1.1},{"t":19.8,"hr":578,"act":0.8},{"t":19.9,"hr":574,"act":1.05},
{"t":20,"hr":577,"act":0.75},{"t":20.1,"hr":580,"act":1.0},{"t":20.2,"hr":583,"act":0.7},{"t":20.3,"hr":580,"act":0.95},{"t":20.4,"hr":585,"act":0.72},{"t":20.5,"hr":582,"act":1.0},{"t":20.6,"hr":586,"act":0.75},{"t":20.7,"hr":583,"act":1.05},{"t":20.8,"hr":580,"act":0.8},{"t":20.9,"hr":584,"act":1.1},
{"t":21,"hr":587,"act":0.9},{"t":21.1,"hr":584,"act":1.25},{"t":21.2,"hr":588,"act":0.95},{"t":21.3,"hr":585,"act":1.35},{"t":21.4,"hr":583,"act":1.0},{"t":21.5,"hr":587,"act":1.4},{"t":21.6,"hr":584,"act":1.05},{"t":21.7,"hr":588,"act":1.5},{"t":21.8,"hr":585,"act":1.1},{"t":21.9,"hr":589,"act":1.45},
{"t":22,"hr":586,"act":1.0},{"t":22.1,"hr":590,"act":1.4},{"t":22.2,"hr":587,"act":1.05},{"t":22.3,"hr":591,"act":1.5},{"t":22.4,"hr":588,"act":1.1},{"t":22.5,"hr":585,"act":1.6},{"t":22.6,"hr":589,"act":1.2},{"t":22.7,"hr":586,"act":1.8},{"t":22.8,"hr":590,"act":1.15},{"t":22.9,"hr":587,"act":1.55},
{"t":23,"hr":584,"act":1.1},{"t":23.1,"hr":585,"act":1.4},{"t":23.2,"hr":581,"act":0.95},{"t":23.3,"hr":575,"act":1.3},{"t":23.4,"hr":568,"act":0.9},{"t":23.5,"hr":560,"act":1.2},{"t":23.6,"hr":552,"act":0.85},{"t":23.7,"hr":546,"act":1.1},{"t":23.8,"hr":540,"act":0.8},{"t":23.9,"hr":536,"act":1.0},
{"t":24,"hr":532,"act":0.85}
],
"ta": [
{"t":0,"temp":35.9},{"t":0.25,"temp":36.1},{"t":0.5,"temp":35.7},{"t":0.75,"temp":36.2},{"t":1,"temp":35.8},{"t":1.25,"temp":35.6},{"t":1.5,"temp":35.9},{"t":1.75,"temp":35.7},{"t":2,"temp":35.9},{"t":2.25,"temp":36.0},{"t":2.5,"temp":35.8},{"t":2.75,"temp":35.9},{"t":3,"temp":35.7},{"t":3.25,"temp":35.9},{"t":3.5,"temp":35.8},{"t":3.75,"temp":36.0},{"t":4,"temp":35.8},{"t":4.25,"temp":36.1},{"t":4.5,"temp":36.3},{"t":4.75,"temp":36.5},{"t":5,"temp":36.3},{"t":5.25,"temp":36.6},{"t":5.5,"temp":36.4},{"t":5.75,"temp":36.3},{"t":6,"temp":36.1},{"t":6.25,"temp":35.6},{"t":6.5,"temp":35.7},{"t":6.75,"temp":35.2},{"t":7,"temp":34.9},{"t":7.25,"temp":34.7},{"t":7.5,"temp":34.6},{"t":7.75,"temp":34.8},{"t":8,"temp":35.3},{"t":8.25,"temp":35.7},{"t":8.5,"temp":35.6},{"t":8.75,"temp":35.2},{"t":9,"temp":34.9},{"t":9.25,"temp":35.0},{"t":9.5,"temp":34.7},{"t":9.75,"temp":34.5},{"t":10,"temp":34.6},{"t":10.25,"temp":34.4},{"t":10.5,"temp":34.3},{"t":10.75,"temp":34.1},{"t":11,"temp":34.8},{"t":11.25,"temp":34.5},{"t":11.5,"temp":34.2},{"t":11.75,"temp":34.3},{"t":12,"temp":34.1},{"t":12.25,"temp":34.2},{"t":12.5,"temp":34.3},{"t":12.75,"temp":34.5},{"t":13,"temp":34.8},{"t":13.25,"temp":35.9},{"t":13.5,"temp":35.4},{"t":13.75,"temp":35.1},{"t":14,"temp":34.9},{"t":14.25,"temp":34.7},{"t":14.5,"temp":34.5},{"t":14.75,"temp":34.3},{"t":15,"temp":34.4},{"t":15.25,"temp":34.8},{"t":15.5,"temp":35.2},{"t":15.75,"temp":35.4},{"t":16,"temp":35.7},{"t":16.25,"temp":35.6},{"t":16.5,"temp":35.4},{"t":16.75,"temp":35.2},{"t":17,"temp":35.1},{"t":17.25,"temp":35.4},{"t":17.5,"temp":35.7},{"t":17.75,"temp":35.4},{"t":18,"temp":35.2},{"t":18.25,"temp":35.9},{"t":18.5,"temp":36.3},{"t":18.75,"temp":36.1},{"t":19,"temp":36.5},{"t":19.25,"temp":36.3},{"t":19.5,"temp":36.7},{"t":19.75,"temp":36.4},{"t":20,"temp":36.6},{"t":20.25,"temp":36.2},{"t":20.5,"temp":36.5},{"t":20.75,"temp":36.2},{"t":21,"temp":36.4},{"t":21.25,"temp":36.1},{"t":21.5,"temp":36.3},{"t":21.75,"temp":35.8},{"t":22,"temp":35.5},{"t":22.25,"temp":35.7},{"t":22.5,"temp":36.1},{"t":22.75,"temp":36.4},{"t":23,"temp":36.2},{"t":23.25,"temp":36.3},{"t":23.5,"temp":36.0},{"t":23.75,"temp":36.2},{"t":24,"temp":35.8}
],
"tb": [
{"t":0,"temp":37.1},{"t":0.25,"temp":36.2},{"t":0.5,"temp":35.9},{"t":0.75,"temp":35.7},{"t":1,"temp":35.6},{"t":1.25,"temp":35.4},{"t":1.5,"temp":36.2},{"t":1.75,"temp":36.9},{"t":2,"temp":36.2},{"t":2.25,"temp":35.7},{"t":2.5,"temp":35.5},{"t":2.75,"temp":35.3},{"t":3,"temp":35.1},{"t":3.25,"temp":35.0},{"t":3.5,"temp":36.6},{"t":3.75,"temp":36.2},{"t":4,"temp":36.9},{"t":4.25,"temp":36.4},{"t":4.5,"temp":36.7},{"t":4.75,"temp":36.2},{"t":5,"temp":36.5},{"t":5.25,"temp":36.1},{"t":5.5,"temp":36.4},{"t":5.75,"temp":36.0},{"t":6,"temp":36.0},{"t":6.25,"temp":35.7},{"t":6.5,"temp":35.2},{"t":6.75,"temp":34.8},{"t":7,"temp":34.5},{"t":7.25,"temp":34.6},{"t":7.5,"temp":35.0},{"t":7.75,"temp":35.9},{"t":8,"temp":35.3},{"t":8.25,"temp":35.2},{"t":8.5,"temp":35.7},{"t":8.75,"temp":35.0},{"t":9,"temp":35.3},{"t":9.25,"temp":35.0},{"t":9.5,"temp":35.4},{"t":9.75,"temp":34.9},{"t":10,"temp":35.0},{"t":10.25,"temp":35.3},{"t":10.5,"temp":34.9},{"t":10.75,"temp":34.7},{"t":11,"temp":34.5},{"t":11.25,"temp":34.9},{"t":11.5,"temp":35.2},{"t":11.75,"temp":34.9},{"t":12,"temp":35.1},{"t":12.25,"temp":35.0},{"t":12.5,"temp":34.8},{"t":12.75,"temp":35.1},{"t":13,"temp":34.9},{"t":13.25,"temp":35.1},{"t":13.5,"temp":34.9},{"t":13.75,"temp":35.0},{"t":14,"temp":34.8},{"t":14.25,"temp":34.9},{"t":14.5,"temp":34.7},{"t":14.75,"temp":34.8},{"t":15,"temp":34.5},{"t":15.25,"temp":34.7},{"t":15.5,"temp":34.8},{"t":15.75,"temp":34.6},{"t":16,"temp":35.0},{"t":16.25,"temp":34.8},{"t":16.5,"temp":35.2},{"t":16.75,"temp":35.0},{"t":17,"temp":35.3},{"t":17.25,"temp":35.1},{"t":17.5,"temp":35.6},{"t":17.75,"temp":35.9},{"t":18,"temp":36.3},{"t":18.25,"temp":36.6},{"t":18.5,"temp":36.9},{"t":18.75,"temp":37.2},{"t":19,"temp":37.4},{"t":19.25,"temp":36.9},{"t":19.5,"temp":37.3},{"t":19.75,"temp":36.8},{"t":20,"temp":36.5},{"t":20.25,"temp":36.8},{"t":20.5,"temp":36.2},{"t":20.75,"temp":36.5},{"t":21,"temp":36.3},{"t":21.25,"temp":36.7},{"t":21.5,"temp":37.1},{"t":21.75,"temp":36.8},{"t":22,"temp":37.2},{"t":22.25,"temp":36.7},{"t":22.5,"temp":37.2},{"t":22.75,"temp":36.8},{"t":23,"temp":36.6},{"t":23.25,"temp":36.4},{"t":23.5,"temp":36.2},{"t":23.75,"temp":36.0},{"t":24,"temp":35.8}
],
"tc": [
{"t":0,"temp":35.5},{"t":0.5,"temp":35.45},{"t":1,"temp":35.4},{"t":1.5,"temp":35.35},{"t":2,"temp":35.3},{"t":2.5,"temp":35.25},{"t":3,"temp":35.35},{"t":3.5,"temp":35.4},{"t":4,"temp":35.5},{"t":4.5,"temp":35.6},{"t":5,"temp":35.7},{"t":5.5,"temp":35.65},{"t":6,"temp":35.55},{"t":6.5,"temp":35.3},{"t":7,"temp":34.9},{"t":7.5,"temp":34.5},{"t":8,"temp":34.35},{"t":8.5,"temp":34.25},{"t":9,"temp":34.2},{"t":9.5,"temp":34.15},{"t":10,"temp":34.1},{"t":10.5,"temp":34.1},{"t":11,"temp":34.05},{"t":11.5,"temp":34.0},{"t":12,"temp":33.95},{"t":12.5,"temp":34.05},{"t":13,"temp":34.15},{"t":13.5,"temp":34.2},{"t":14,"temp":34.1},{"t":14.5,"temp":34.2},{"t":15,"temp":34.25},{"t":15.5,"temp":34.3},{"t":16,"temp":34.35},{"t":16.5,"temp":34.45},{"t":17,"temp":34.55},{"t":17.5,"temp":34.6},{"t":18,"temp":34.95},{"t":18.5,"temp":35.3},{"t":19,"temp":35.6},{"t":19.5,"temp":35.7},{"t":20,"temp":35.7},{"t":20.5,"temp":35.75},{"t":21,"temp":35.75},{"t":21.5,"temp":35.7},{"t":22,"temp":35.75},{"t":22.5,"temp":35.8},{"t":23,"temp":35.85},{"t":23.5,"temp":35.75},{"t":24,"temp":35.6}
],
"td": [
{"t":0,"temp":35.3},{"t":0.5,"temp":35.3},{"t":1,"temp":35.25},{"t":1.5,"temp":35.25},{"t":2,"temp":35.15},{"t":2.5,"temp":35.15},{"t":3,"temp":35.1},{"t":3.5,"temp":35.2},{"t":4,"temp":35.35},{"t":4.5,"temp":35.55},{"t":5,"temp":35.75},{"t":5.5,"temp":35.6},{"t":6,"temp":35.15},{"t":6.5,"temp":34.65},{"t":7,"temp":34.2},{"t":7.5,"temp":34.1},{"t":8,"temp":34.1},{"t":8.5,"temp":34.1},{"t":9,"temp":34.1},{"t":9.5,"temp":34.05},{"t":10,"temp":34.0},{"t":10.5,"temp":33.95},{"t":11,"temp":33.9},{"t":11.5,"temp":33.95},{"t":12,"temp":34.0},{"t":12.5,"temp":33.95},{"t":13,"temp":33.95},{"t":13.5,"temp":33.9},{"t":14,"temp":33.9},{"t":14.5,"temp":33.85},{"t":15,"temp":33.8},{"t":15.5,"temp":33.95},{"t":16,"temp":34.0},{"t":16.5,"temp":34.2},{"t":17,"temp":34.35},{"t":17.5,"temp":34.6},{"t":18,"temp":35.0},{"t":18.25,"temp":35.5},{"t":18.75,"temp":36.1},{"t":19,"temp":35.9},{"t":19.5,"temp":35.7},{"t":20,"temp":35.7},{"t":20.5,"temp":35.8},{"t":21,"temp":35.85},{"t":21.5,"temp":35.9},{"t":22,"temp":35.95},{"t":22.5,"temp":35.95},{"t":23,"temp":35.9},{"t":23.5,"temp":35.75},{"t":24,"temp":35.45}
]
},
"vconcat": [
 {"hconcat": [
  {"title": {"text": "A", "anchor": "start", "fontSize": 13, "fontWeight": "bold", "color": "black", "offset": 0},
   "spacing": 21, "bounds": "flush",
   "vconcat": [
    {"width": 251, "height": 52,
     "title": {"text": "Heart Rate, Activity and Temperature data for a B6 Mouse", "frame": "group", "fontSize": 8, "offset": -9.5},
     "data": {"name": "a"},
     "layer": [
      {"mark": {"type": "line", "color": "black", "strokeWidth": 0.9},
       "encoding": {"x": {"field": "t", "type": "quantitative", "scale": {"domain": [0, 25], "nice": false}, "axis": {"values": [0,5,6,10,15,18,20,25], "title": null}},
                    "y": {"field": "hr", "type": "quantitative", "scale": {"domain": [360, 800], "nice": false, "zero": false}, "axis": {"values": [400,600,800], "title": "Heart Rate (beats/min)"}}}},
      {"mark": {"type": "line", "strokeOpacity": 0},
       "encoding": {"x": {"field": "t", "type": "quantitative", "scale": {"domain": [0, 25], "nice": false}, "axis": {"orient": "top", "values": [5,6,10,15,18,20], "labels": false, "title": null}},
                    "y": {"field": "hr", "type": "quantitative", "scale": {"domain": [360, 800], "nice": false, "zero": false}, "axis": {"orient": "right", "values": [400,600], "labels": false, "title": null}}}}
     ],
     "resolve": {"axis": {"x": "independent", "y": "independent"}}},
    {"width": 251, "height": 53,
     "data": {"name": "a"},
     "layer": [
      {"mark": {"type": "line", "color": "black", "strokeWidth": 0.9},
       "encoding": {"x": {"field": "t", "type": "quantitative", "scale": {"domain": [0, 25], "nice": false}, "axis": {"values": [0,5,6,10,15,18,20,25], "title": null}},
                    "y": {"field": "act", "type": "quantitative", "scale": {"domain": [0, 15], "nice": false}, "axis": {"values": [0,5,10,15], "title": "Activity (counts)"}}}},
      {"mark": {"type": "line", "strokeOpacity": 0},
       "encoding": {"x": {"field": "t", "type": "quantitative", "scale": {"domain": [0, 25], "nice": false}, "axis": {"orient": "top", "values": [5,6,10,15,18,20], "labels": false, "title": null}},
                    "y": {"field": "act", "type": "quantitative", "scale": {"domain": [0, 15], "nice": false}, "axis": {"orient": "right", "values": [5,10], "labels": false, "title": null}}}}
     ],
     "resolve": {"axis": {"x": "independent", "y": "independent"}}},
    {"width": 251, "height": 52,
     "layer": [
      {"data": {"name": "ld"}, "mark": {"type": "rect", "stroke": "black", "strokeWidth": 0.8},
       "encoding": {"x": {"field": "s", "type": "quantitative", "scale": {"domain": [0, 25], "nice": false}, "axis": null}, "x2": {"field": "e"},
                    "y": {"datum": 30, "type": "quantitative", "scale": {"domain": [30, 38], "nice": false, "zero": false}, "axis": null}, "y2": {"datum": 31},
                    "fill": {"field": "c", "type": "nominal", "scale": {"domain": ["dark", "light"], "range": ["black", "white"]}, "legend": null}}},
      {"data": {"name": "ta"}, "mark": {"type": "line", "color": "black", "strokeWidth": 0.9},
       "encoding": {"x": {"field": "t", "type": "quantitative", "scale": {"domain": [0, 25], "nice": false}, "axis": {"values": [0,5,6,10,15,18,20,25], "title": "Time (hours)"}},
                    "y": {"field": "temp", "type": "quantitative", "scale": {"domain": [30, 38], "nice": false, "zero": false}, "axis": {"values": [30,32,34,36,38], "title": "Temperature (°C)"}}}},
      {"data": {"name": "ta"}, "mark": {"type": "line", "strokeOpacity": 0},
       "encoding": {"x": {"field": "t", "type": "quantitative", "scale": {"domain": [0, 25], "nice": false}, "axis": {"orient": "top", "values": [5,6,10,15,18,20], "labels": false, "title": null}},
                    "y": {"field": "temp", "type": "quantitative", "scale": {"domain": [30, 38], "nice": false, "zero": false}, "axis": {"orient": "right", "values": [32,34,36], "labels": false, "title": null}}}}
     ],
     "resolve": {"axis": {"x": "independent", "y": "independent"}}}
   ]},
  {"title": {"text": "B", "anchor": "start", "fontSize": 13, "fontWeight": "bold", "color": "black", "offset": 0},
   "spacing": 21, "bounds": "flush",
   "vconcat": [
    {"width": 249, "height": 52,
     "title": {"text": "Heart Rate, Activity and Temperature data for an A/J Mouse", "frame": "group", "fontSize": 8, "offset": -9.5},
     "data": {"name": "b"},
     "layer": [
      {"mark": {"type": "line", "color": "black", "strokeWidth": 0.9},
       "encoding": {"x": {"field": "t", "type": "quantitative", "scale": {"domain": [0, 25], "nice": false}, "axis": {"values": [0,5,6,10,15,18,20,25], "title": null}},
                    "y": {"field": "hr", "type": "quantitative", "scale": {"domain": [360, 800], "nice": false, "zero": false}, "axis": {"values": [400,600,800], "title": "Heart Rate (beats/min)"}}}},
      {"mark": {"type": "line", "strokeOpacity": 0},
       "encoding": {"x": {"field": "t", "type": "quantitative", "scale": {"domain": [0, 25], "nice": false}, "axis": {"orient": "top", "values": [5,6,10,15,18,20], "labels": false, "title": null}},
                    "y": {"field": "hr", "type": "quantitative", "scale": {"domain": [360, 800], "nice": false, "zero": false}, "axis": {"orient": "right", "values": [400,600], "labels": false, "title": null}}}}
     ],
     "resolve": {"axis": {"x": "independent", "y": "independent"}}},
    {"width": 249, "height": 53,
     "data": {"name": "b"},
     "layer": [
      {"mark": {"type": "line", "color": "black", "strokeWidth": 0.9},
       "encoding": {"x": {"field": "t", "type": "quantitative", "scale": {"domain": [0, 25], "nice": false}, "axis": {"values": [0,5,6,10,15,18,20,25], "title": null}},
                    "y": {"field": "act", "type": "quantitative", "scale": {"domain": [0, 15], "nice": false}, "axis": {"values": [0,5,10,15], "title": "Activity (counts)"}}}},
      {"mark": {"type": "line", "strokeOpacity": 0},
       "encoding": {"x": {"field": "t", "type": "quantitative", "scale": {"domain": [0, 25], "nice": false}, "axis": {"orient": "top", "values": [5,6,10,15,18,20], "labels": false, "title": null}},
                    "y": {"field": "act", "type": "quantitative", "scale": {"domain": [0, 15], "nice": false}, "axis": {"orient": "right", "values": [5,10], "labels": false, "title": null}}}}
     ],
     "resolve": {"axis": {"x": "independent", "y": "independent"}}},
    {"width": 249, "height": 52,
     "layer": [
      {"data": {"name": "ld"}, "mark": {"type": "rect", "stroke": "black", "strokeWidth": 0.8},
       "encoding": {"x": {"field": "s", "type": "quantitative", "scale": {"domain": [0, 25], "nice": false}, "axis": null}, "x2": {"field": "e"},
                    "y": {"datum": 30, "type": "quantitative", "scale": {"domain": [30, 38], "nice": false, "zero": false}, "axis": null}, "y2": {"datum": 31},
                    "fill": {"field": "c", "type": "nominal", "scale": {"domain": ["dark", "light"], "range": ["black", "white"]}, "legend": null}}},
      {"data": {"name": "tb"}, "mark": {"type": "line", "color": "black", "strokeWidth": 0.9},
       "encoding": {"x": {"field": "t", "type": "quantitative", "scale": {"domain": [0, 25], "nice": false}, "axis": {"values": [0,5,6,10,15,18,20,25], "title": "Time (hours)"}},
                    "y": {"field": "temp", "type": "quantitative", "scale": {"domain": [30, 38], "nice": false, "zero": false}, "axis": {"values": [30,32,34,36,38], "title": "Temperature (°C)"}}}},
      {"data": {"name": "tb"}, "mark": {"type": "line", "strokeOpacity": 0},
       "encoding": {"x": {"field": "t", "type": "quantitative", "scale": {"domain": [0, 25], "nice": false}, "axis": {"orient": "top", "values": [5,6,10,15,18,20], "labels": false, "title": null}},
                    "y": {"field": "temp", "type": "quantitative", "scale": {"domain": [30, 38], "nice": false, "zero": false}, "axis": {"orient": "right", "values": [32,34,36], "labels": false, "title": null}}}}
     ],
     "resolve": {"axis": {"x": "independent", "y": "independent"}}}
   ]}
 ], "spacing": 16},
 {"hconcat": [
  {"title": {"text": "C", "anchor": "start", "fontSize": 13, "fontWeight": "bold", "color": "black", "offset": 0},
   "spacing": 21, "bounds": "flush",
   "vconcat": [
    {"width": 251, "height": 52,
     "title": {"text": "Average Heart Rate, Activity and Temperature data for B6 strain", "frame": "group", "fontSize": 8, "offset": -9.5},
     "data": {"name": "c"},
     "layer": [
      {"mark": {"type": "line", "color": "black", "strokeWidth": 0.9},
       "encoding": {"x": {"field": "t", "type": "quantitative", "scale": {"domain": [0, 25], "nice": false}, "axis": {"values": [0,5,6,10,15,18,20,25], "title": null}},
                    "y": {"field": "hr", "type": "quantitative", "scale": {"domain": [360, 800], "nice": false, "zero": false}, "axis": {"values": [400,600,800], "title": "Heart Rate (beats/min)"}}}},
      {"mark": {"type": "line", "strokeOpacity": 0},
       "encoding": {"x": {"field": "t", "type": "quantitative", "scale": {"domain": [0, 25], "nice": false}, "axis": {"orient": "top", "values": [5,6,10,15,18,20], "labels": false, "title": null}},
                    "y": {"field": "hr", "type": "quantitative", "scale": {"domain": [360, 800], "nice": false, "zero": false}, "axis": {"orient": "right", "values": [400,600], "labels": false, "title": null}}}}
     ],
     "resolve": {"axis": {"x": "independent", "y": "independent"}}},
    {"width": 251, "height": 53,
     "data": {"name": "c"},
     "layer": [
      {"mark": {"type": "line", "color": "black", "strokeWidth": 0.9},
       "encoding": {"x": {"field": "t", "type": "quantitative", "scale": {"domain": [0, 25], "nice": false}, "axis": {"values": [0,5,6,10,15,18,20,25], "title": null}},
                    "y": {"field": "act", "type": "quantitative", "scale": {"domain": [0, 3], "nice": false}, "axis": {"values": [0,1,2,3], "title": "Activity (counts)"}}}},
      {"mark": {"type": "line", "strokeOpacity": 0},
       "encoding": {"x": {"field": "t", "type": "quantitative", "scale": {"domain": [0, 25], "nice": false}, "axis": {"orient": "top", "values": [5,6,10,15,18,20], "labels": false, "title": null}},
                    "y": {"field": "act", "type": "quantitative", "scale": {"domain": [0, 3], "nice": false}, "axis": {"orient": "right", "values": [1,2], "labels": false, "title": null}}}}
     ],
     "resolve": {"axis": {"x": "independent", "y": "independent"}}},
    {"width": 251, "height": 52,
     "layer": [
      {"data": {"name": "ld"}, "mark": {"type": "rect", "stroke": "black", "strokeWidth": 0.8},
       "encoding": {"x": {"field": "s", "type": "quantitative", "scale": {"domain": [0, 25], "nice": false}, "axis": null}, "x2": {"field": "e"},
                    "y": {"datum": 30, "type": "quantitative", "scale": {"domain": [30, 38], "nice": false, "zero": false}, "axis": null}, "y2": {"datum": 31},
                    "fill": {"field": "c", "type": "nominal", "scale": {"domain": ["dark", "light"], "range": ["black", "white"]}, "legend": null}}},
      {"data": {"name": "tc"}, "mark": {"type": "line", "color": "black", "strokeWidth": 0.9},
       "encoding": {"x": {"field": "t", "type": "quantitative", "scale": {"domain": [0, 25], "nice": false}, "axis": {"values": [0,5,6,10,15,18,20,25], "title": "Time (hours)"}},
                    "y": {"field": "temp", "type": "quantitative", "scale": {"domain": [30, 38], "nice": false, "zero": false}, "axis": {"values": [30,32,34,36,38], "title": "Temperature (°C)"}}}},
      {"data": {"name": "tc"}, "mark": {"type": "line", "strokeOpacity": 0},
       "encoding": {"x": {"field": "t", "type": "quantitative", "scale": {"domain": [0, 25], "nice": false}, "axis": {"orient": "top", "values": [5,6,10,15,18,20], "labels": false, "title": null}},
                    "y": {"field": "temp", "type": "quantitative", "scale": {"domain": [30, 38], "nice": false, "zero": false}, "axis": {"orient": "right", "values": [32,34,36], "labels": false, "title": null}}}}
     ],
     "resolve": {"axis": {"x": "independent", "y": "independent"}}}
   ]},
  {"title": {"text": "D", "anchor": "start", "fontSize": 13, "fontWeight": "bold", "color": "black", "offset": 0},
   "spacing": 21, "bounds": "flush",
   "vconcat": [
    {"width": 249, "height": 52,
     "title": {"text": "Average Heart Rate, Activity and Temperature data for A/J strain", "frame": "group", "fontSize": 8, "offset": -9.5},
     "data": {"name": "d"},
     "layer": [
      {"mark": {"type": "line", "color": "black", "strokeWidth": 0.9},
       "encoding": {"x": {"field": "t", "type": "quantitative", "scale": {"domain": [0, 25], "nice": false}, "axis": {"values": [0,5,6,10,15,18,20,25], "title": null}},
                    "y": {"field": "hr", "type": "quantitative", "scale": {"domain": [360, 800], "nice": false, "zero": false}, "axis": {"values": [400,600,800], "title": "Heart Rate (beats/min)"}}}},
      {"mark": {"type": "line", "strokeOpacity": 0},
       "encoding": {"x": {"field": "t", "type": "quantitative", "scale": {"domain": [0, 25], "nice": false}, "axis": {"orient": "top", "values": [5,6,10,15,18,20], "labels": false, "title": null}},
                    "y": {"field": "hr", "type": "quantitative", "scale": {"domain": [360, 800], "nice": false, "zero": false}, "axis": {"orient": "right", "values": [400,600], "labels": false, "title": null}}}}
     ],
     "resolve": {"axis": {"x": "independent", "y": "independent"}}},
    {"width": 249, "height": 53,
     "data": {"name": "d"},
     "layer": [
      {"mark": {"type": "line", "color": "black", "strokeWidth": 0.9},
       "encoding": {"x": {"field": "t", "type": "quantitative", "scale": {"domain": [0, 25], "nice": false}, "axis": {"values": [0,5,6,10,15,18,20,25], "title": null}},
                    "y": {"field": "act", "type": "quantitative", "scale": {"domain": [0, 3], "nice": false}, "axis": {"values": [0,1,2,3], "title": "Activity (counts)"}}}},
      {"mark": {"type": "line", "strokeOpacity": 0},
       "encoding": {"x": {"field": "t", "type": "quantitative", "scale": {"domain": [0, 25], "nice": false}, "axis": {"orient": "top", "values": [5,6,10,15,18,20], "labels": false, "title": null}},
                    "y": {"field": "act", "type": "quantitative", "scale": {"domain": [0, 3], "nice": false}, "axis": {"orient": "right", "values": [1,2], "labels": false, "title": null}}}}
     ],
     "resolve": {"axis": {"x": "independent", "y": "independent"}}},
    {"width": 249, "height": 52,
     "layer": [
      {"data": {"name": "ld"}, "mark": {"type": "rect", "stroke": "black", "strokeWidth": 0.8},
       "encoding": {"x": {"field": "s", "type": "quantitative", "scale": {"domain": [0, 25], "nice": false}, "axis": null}, "x2": {"field": "e"},
                    "y": {"datum": 30, "type": "quantitative", "scale": {"domain": [30, 38], "nice": false, "zero": false}, "axis": null}, "y2": {"datum": 31},
                    "fill": {"field": "c", "type": "nominal", "scale": {"domain": ["dark", "light"], "range": ["black", "white"]}, "legend": null}}},
      {"data": {"name": "td"}, "mark": {"type": "line", "color": "black", "strokeWidth": 0.9},
       "encoding": {"x": {"field": "t", "type": "quantitative", "scale": {"domain": [0, 25], "nice": false}, "axis": {"values": [0,5,6,10,15,18,20,25], "title": "Time (hours)"}},
                    "y": {"field": "temp", "type": "quantitative", "scale": {"domain": [30, 38], "nice": false, "zero": false}, "axis": {"values": [30,32,34,36,38], "title": "Temperature (°C)"}}}},
      {"data": {"name": "td"}, "mark": {"type": "line", "strokeOpacity": 0},
       "encoding": {"x": {"field": "t", "type": "quantitative", "scale": {"domain": [0, 25], "nice": false}, "axis": {"orient": "top", "values": [5,6,10,15,18,20], "labels": false, "title": null}},
                    "y": {"field": "temp", "type": "quantitative", "scale": {"domain": [30, 38], "nice": false, "zero": false}, "axis": {"orient": "right", "values": [32,34,36], "labels": false, "title": null}}}}
     ],
     "resolve": {"axis": {"x": "independent", "y": "independent"}}}
   ]}
 ], "spacing": 16}
],
"spacing": -1
}
